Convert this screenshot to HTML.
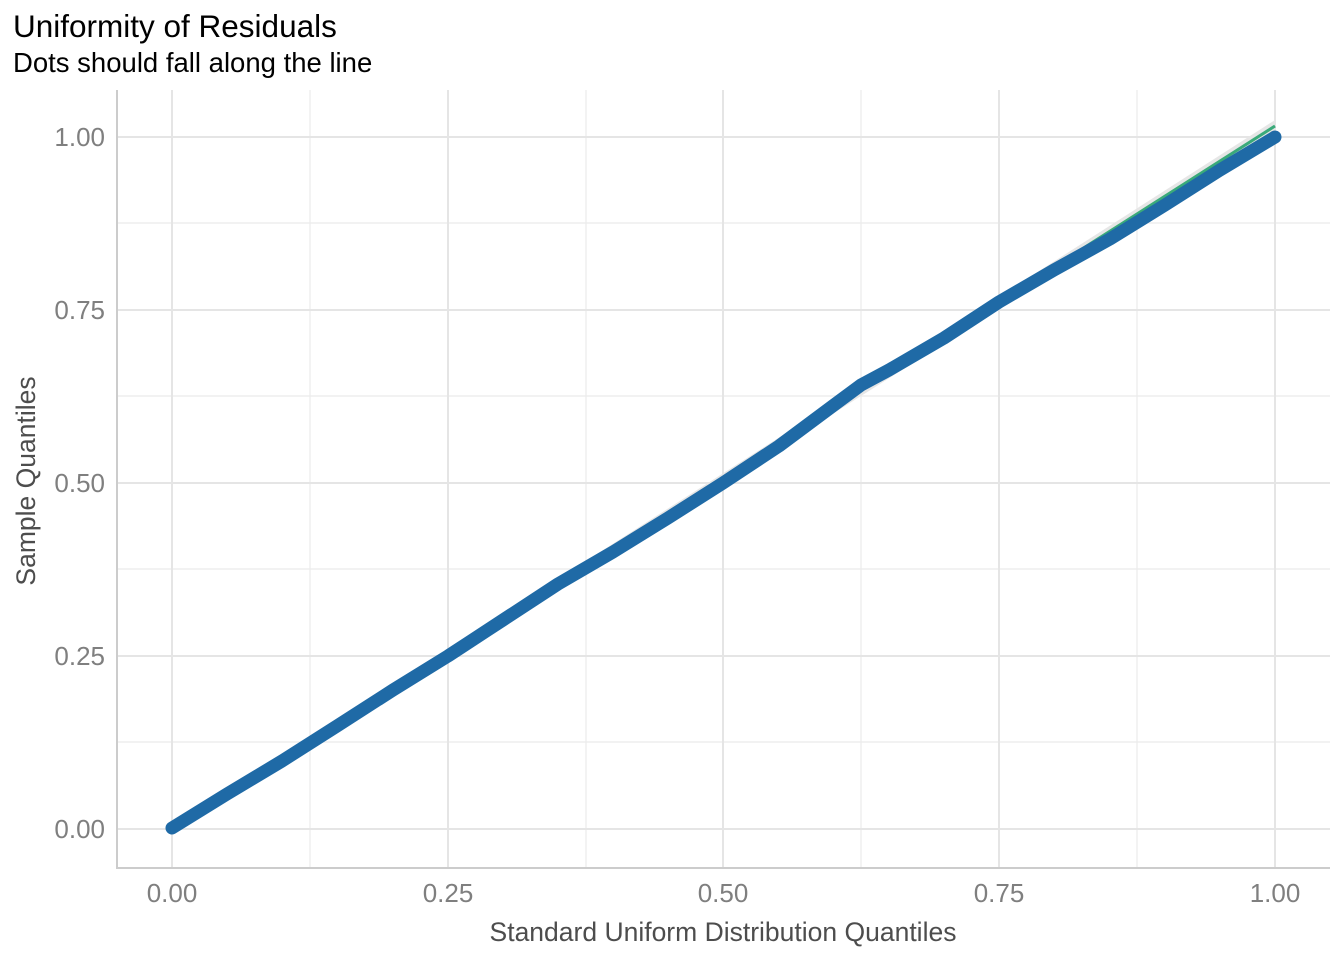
<!DOCTYPE html>
<html><head><meta charset="utf-8"><style>
body{margin:0;background:#fff;}
svg{display:block;font-family:"Liberation Sans",sans-serif;}
</style></head><body>
<svg width="1344" height="960" viewBox="0 0 1344 960">
<rect width="1344" height="960" fill="#fff"/>
<g stroke="#ebebeb" stroke-width="1.2">
<line x1="310" y1="90" x2="310" y2="868"/><line x1="586" y1="90" x2="586" y2="868"/>
<line x1="861" y1="90" x2="861" y2="868"/><line x1="1137" y1="90" x2="1137" y2="868"/>
<line x1="117" y1="223" x2="1330" y2="223"/><line x1="117" y1="396" x2="1330" y2="396"/>
<line x1="117" y1="569" x2="1330" y2="569"/><line x1="117" y1="742" x2="1330" y2="742"/>
</g>
<g stroke="#e5e5e5" stroke-width="2">
<line x1="172" y1="90" x2="172" y2="868"/><line x1="448" y1="90" x2="448" y2="868"/>
<line x1="723" y1="90" x2="723" y2="868"/><line x1="999" y1="90" x2="999" y2="868"/>
<line x1="1275" y1="90" x2="1275" y2="868"/>
<line x1="117" y1="137" x2="1330" y2="137"/><line x1="117" y1="310" x2="1330" y2="310"/>
<line x1="117" y1="483" x2="1330" y2="483"/><line x1="117" y1="656" x2="1330" y2="656"/>
<line x1="117" y1="829" x2="1330" y2="829"/>
</g>
<g stroke="#cccccc" stroke-width="2"><line x1="117" y1="90" x2="117" y2="869"/><line x1="116" y1="868" x2="1330" y2="868"/></g>
<polygon points="172,826 1275,120 1275,134 172,832" fill="#e6e6e6"/>
<line x1="172" y1="829" x2="1275" y2="126" stroke="#3aaa7a" stroke-width="3"/>
<polyline fill="none" stroke="#1f6aa6" stroke-width="13" stroke-linecap="round" stroke-linejoin="round"
points="172,828 227,794 282,761 337,726 393,690 448,656 503,620 558,584 613,552 668,518 723,483 779,446 834,405 861,385 889,370 944,338 999,302 1054,270 1110,239 1165,205 1220,170 1275,137"/>
<g fill="#7f7f7f" font-size="26" text-anchor="end">
<text x="105" y="146">1.00</text><text x="105" y="319">0.75</text><text x="105" y="492">0.50</text>
<text x="105" y="665">0.25</text><text x="105" y="838">0.00</text>
</g>
<g fill="#7f7f7f" font-size="26" text-anchor="middle">
<text x="172" y="902">0.00</text><text x="448" y="902">0.25</text><text x="723" y="902">0.50</text>
<text x="999" y="902">0.75</text><text x="1275" y="902">1.00</text>
</g>
<text x="723" y="941" font-size="26.5" fill="#4d4d4d" text-anchor="middle">Standard Uniform Distribution Quantiles</text>
<text transform="translate(35,481) rotate(-90)" font-size="26.5" fill="#4d4d4d" text-anchor="middle">Sample Quantiles</text>
<text x="13" y="37" font-size="31.5" fill="#000">Uniformity of Residuals</text>
<text x="13" y="72" font-size="27.5" fill="#000">Dots should fall along the line</text>
</svg>
</body></html>
